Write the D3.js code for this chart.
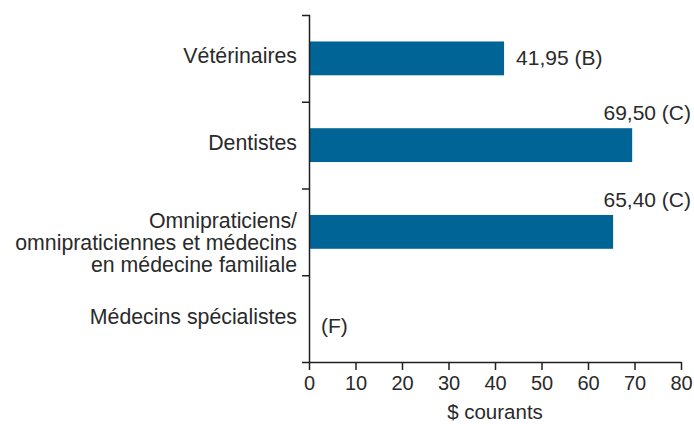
<!DOCTYPE html>
<html>
<head>
<meta charset="utf-8">
<script src="https://cdn.jsdelivr.net/npm/d3@7"></script>
<style>
  body { margin: 0; background: #fff; }
  text { font-family: "Liberation Sans", Arial, sans-serif; fill: #2a2a2a; }
  .axis path, .axis line { stroke: #231f20; stroke-width: 1.5; }
</style>
</head>
<body>
<script>
var width = 694;
var height = 424;

// data
var categories = [
  ["Vétérinaires"],
  ["Dentistes"],
  ["Omnipraticiens/", "omnipraticiennes et médecins", "en médecine familiale"],
  ["Médecins spécialistes"]
];
var values = [41.95, 69.50, 65.40, null];
var flags = ["(B)", "(C)", "(C)", "(F)"];
var valueText = ["41,95", "69,50", "65,40", ""];
var xTicks = [0, 10, 20, 30, 40, 50, 60, 70, 80];
var xTitle = "$ courants";

var margin = {left: 309, right: 13, top: 15, bottom: 62};
var innerW = width - margin.left - margin.right;
var innerH = height - margin.top - margin.bottom;

var svg = d3.select("body").append("svg")
            .attr("width", width)
            .attr("height", height);

var g = svg.append("g")
           .attr("transform", "translate(" + margin.left + "," + margin.top + ")");

var x = d3.scaleLinear().domain([0, 80]).range([0, innerW]);
var y = d3.scaleBand().domain(d3.range(categories.length)).range([0, innerH]).padding(0);
var yEdges = d3.scaleLinear().domain([0, categories.length]).range([0, innerH]);

var barH = y.bandwidth() * 0.39;
var barOff = (y.bandwidth() - barH) / 2;

// bars
g.selectAll("rect.bar")
  .data(values.map(function(v, i){ return {v: v, i: i}; }).filter(function(d){ return d.v != null; }))
  .enter().append("rect")
    .attr("class", "bar")
    .attr("x", x(0))
    .attr("y", function(d){ return y(d.i) + barOff; })
    .attr("width", function(d){ return x(d.v) - x(0); })
    .attr("height", barH)
    .attr("fill", "#006596");

// y axis (ticks on category boundaries)
g.append("g").attr("class", "axis")
  .call(d3.axisLeft(yEdges).tickValues([1, 2, 3]).tickSize(7).tickSizeOuter(7).tickFormat(""));

// x axis
var xAxis = g.append("g").attr("class", "axis")
  .attr("transform", "translate(0," + innerH + ")")
  .call(d3.axisBottom(x).tickValues(xTicks).tickSize(8).tickSizeOuter(0).tickPadding(6));
xAxis.selectAll("text").style("font-size", "20px").attr("fill", "#2a2a2a");

// x title
g.append("text")
  .attr("x", innerW / 2)
  .attr("y", innerH + 57)
  .attr("text-anchor", "middle")
  .style("font-size", "20.5px")
  .text(xTitle);

// category labels
categories.forEach(function(lines, i){
  var cy = y(i) + y.bandwidth() / 2;
  var t = g.append("text")
    .attr("text-anchor", "end")
    .style("font-size", "21.3px");
  var first = lines.length == 1 ? cy + 5 : cy - 4;
  lines.forEach(function(line, j){
    t.append("tspan")
      .attr("x", -12)
      .attr("y", first + j * 22)
      .text(line);
  });
});

// value labels
values.forEach(function(v, i){
  var cy = y(i) + y.bandwidth() / 2;
  var lbl = g.append("text").style("font-size", "21px");
  if (v == null) {
    lbl.attr("x", x(0) + 12).attr("y", cy + 14).text(flags[i]);
  } else if (x(v) + 130 < innerW) {
    lbl.attr("x", x(v) + 12).attr("y", cy + 7).text(valueText[i] + " " + flags[i]);
  } else {
    lbl.attr("x", x(80) + 10).attr("y", y(i) + barOff - 8)
       .attr("text-anchor", "end")
       .text(valueText[i] + " " + flags[i]);
  }
});
</script>
</body>
</html>
